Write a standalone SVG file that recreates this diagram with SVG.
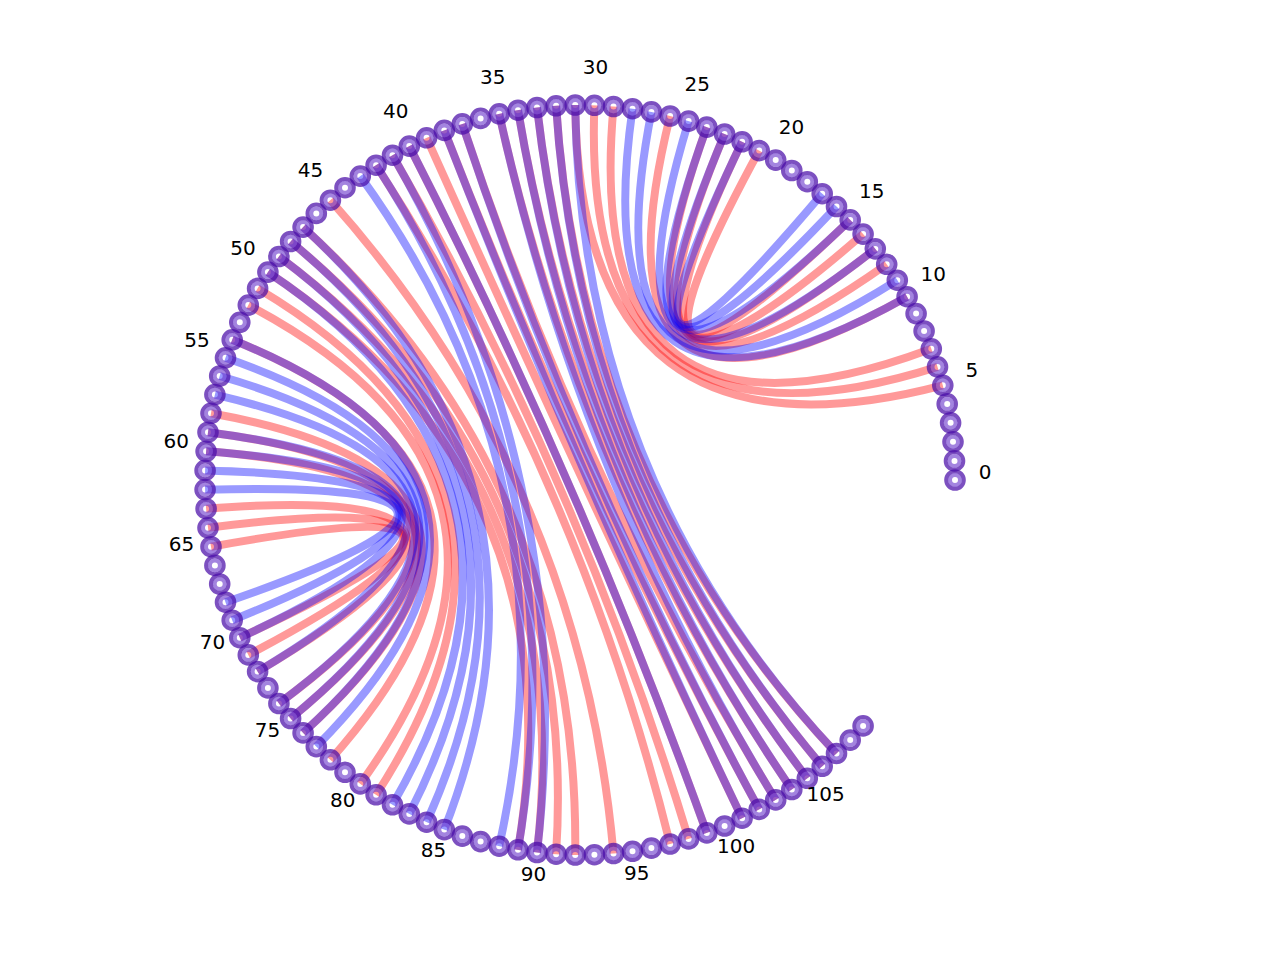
<svg xmlns="http://www.w3.org/2000/svg" xmlns:xlink="http://www.w3.org/1999/xlink" width="1280" height="960" viewBox="0 0 1280 960">
<style>
.r path{fill:none;stroke:#ff0000;stroke-opacity:0.4;stroke-width:8}
.b path{fill:none;stroke:#0000ff;stroke-opacity:0.4;stroke-width:8}
.lbl text{font-family:"DejaVu Sans","Liberation Sans",sans-serif;font-size:20px;fill:#000;text-anchor:middle}
</style>
<defs>
<g id="nd"><circle r="8.8" fill="none" stroke="#4a0ca8" stroke-opacity="0.72" stroke-width="4"/><circle r="5" fill="none" stroke="#6a38cc" stroke-opacity="0.62" stroke-width="4"/></g>
</defs>
<rect width="1280" height="960" fill="#fff"/>
<g id="edges">
<g class="r">
<path d="M850.2 219.9Q580 480 759.2 150.6"/>
<path d="M863.1 234.1Q580 480 742.1 141.8"/>
<path d="M875.3 248.9Q580 480 724.6 134"/>
<path d="M886.7 264.3Q580 480 706.8 127.1"/>
<path d="M907.1 296.7Q580 480 670.1 116"/>
<path d="M931.3 348.8Q580 480 613.5 106.5"/>
<path d="M937.5 366.9Q580 480 594.4 105.3"/>
<path d="M942.8 385.3Q580 480 575.2 105"/>
<path d="M211 546.7Q580 480 239.8 637.7"/>
<path d="M208 527.8Q580 480 248.3 654.9"/>
<path d="M206.1 508.7Q580 480 257.6 671.6"/>
<path d="M206.1 451.3Q580 480 278.9 703.5"/>
<path d="M208 432.2Q580 480 290.6 718.5"/>
<path d="M211 413.3Q580 480 303.1 732.9"/>
<path d="M232.2 339.8Q580 480 330.4 759.8"/>
<path d="M248.3 305.1Q580 480 360.3 783.9"/>
<path d="M257.6 288.4Q580 480 376.1 794.8"/>
<path d="M267.9 272.1Q580 480 518 849.8"/>
<path d="M278.9 256.5Q580 480 537 852.5"/>
<path d="M290.6 241.5Q580 480 556.1 854.2"/>
<path d="M303.1 227.1Q580 480 575.2 855"/>
<path d="M330.4 200.2Q580 480 613.5 853.5"/>
<path d="M376.1 165.2Q580 480 670.1 844"/>
<path d="M392.5 155.2Q580 480 688.6 838.9"/>
<path d="M409.3 146.1Q580 480 706.8 832.9"/>
<path d="M426.6 137.8Q580 480 742.1 818.2"/>
<path d="M444.3 130.4Q580 480 759.2 809.4"/>
<path d="M462.3 123.9Q580 480 775.7 799.9"/>
<path d="M499.2 113.8Q580 480 791.8 789.5"/>
<path d="M518 110.2Q580 480 807.3 778.3"/>
<path d="M537 107.5Q580 480 822.2 766.3"/>
<path d="M556.1 105.8Q580 480 836.5 753.5"/>
</g>
<g class="b">
<path d="M822.2 193.7Q580 480 742.1 141.8"/>
<path d="M836.5 206.5Q580 480 724.6 134"/>
<path d="M850.2 219.9Q580 480 706.8 127.1"/>
<path d="M875.3 248.9Q580 480 688.6 121.1"/>
<path d="M897.3 280.2Q580 480 651.4 111.9"/>
<path d="M907.1 296.7Q580 480 632.5 108.7"/>
<path d="M205.1 489.6Q580 480 225.5 602.2"/>
<path d="M205.1 470.4Q580 480 232.2 620.2"/>
<path d="M206.1 451.3Q580 480 239.8 637.7"/>
<path d="M208 432.2Q580 480 257.6 671.6"/>
<path d="M214.9 394.6Q580 480 278.9 703.5"/>
<path d="M219.7 376Q580 480 290.6 718.5"/>
<path d="M225.5 357.8Q580 480 303.1 732.9"/>
<path d="M232.2 339.8Q580 480 316.3 746.6"/>
<path d="M267.9 272.1Q580 480 392.5 804.8"/>
<path d="M278.9 256.5Q580 480 409.3 813.9"/>
<path d="M290.6 241.5Q580 480 426.6 822.2"/>
<path d="M303.1 227.1Q580 480 444.3 829.6"/>
<path d="M360.3 176.1Q580 480 499.2 846.2"/>
<path d="M376.1 165.2Q580 480 518 849.8"/>
<path d="M392.5 155.2Q580 480 537 852.5"/>
<path d="M409.3 146.1Q580 480 706.8 832.9"/>
<path d="M444.3 130.4Q580 480 742.1 818.2"/>
<path d="M462.3 123.9Q580 480 759.2 809.4"/>
<path d="M499.2 113.8Q580 480 775.7 799.9"/>
<path d="M518 110.2Q580 480 791.8 789.5"/>
<path d="M537 107.5Q580 480 807.3 778.3"/>
<path d="M556.1 105.8Q580 480 822.2 766.3"/>
<path d="M575.2 105Q580 480 836.5 753.5"/>
</g>
</g>
<g id="nodes">
<g id="n0"><use href="#nd" x="955" y="480"/></g>
<g id="n1"><use href="#nd" x="954.5" y="460.9"/></g>
<g id="n2"><use href="#nd" x="953" y="441.8"/></g>
<g id="n3"><use href="#nd" x="950.6" y="422.8"/></g>
<g id="n4"><use href="#nd" x="947.2" y="403.9"/></g>
<g id="n5"><use href="#nd" x="942.8" y="385.3"/></g>
<g id="n6"><use href="#nd" x="937.5" y="366.9"/></g>
<g id="n7"><use href="#nd" x="931.3" y="348.8"/></g>
<g id="n8"><use href="#nd" x="924.1" y="331"/></g>
<g id="n9"><use href="#nd" x="916.1" y="313.6"/></g>
<g id="n10"><use href="#nd" x="907.1" y="296.7"/></g>
<g id="n11"><use href="#nd" x="897.3" y="280.2"/></g>
<g id="n12"><use href="#nd" x="886.7" y="264.3"/></g>
<g id="n13"><use href="#nd" x="875.3" y="248.9"/></g>
<g id="n14"><use href="#nd" x="863.1" y="234.1"/></g>
<g id="n15"><use href="#nd" x="850.2" y="219.9"/></g>
<g id="n16"><use href="#nd" x="836.5" y="206.5"/></g>
<g id="n17"><use href="#nd" x="822.2" y="193.7"/></g>
<g id="n18"><use href="#nd" x="807.3" y="181.7"/></g>
<g id="n19"><use href="#nd" x="791.8" y="170.5"/></g>
<g id="n20"><use href="#nd" x="775.7" y="160.1"/></g>
<g id="n21"><use href="#nd" x="759.2" y="150.6"/></g>
<g id="n22"><use href="#nd" x="742.1" y="141.8"/></g>
<g id="n23"><use href="#nd" x="724.6" y="134"/></g>
<g id="n24"><use href="#nd" x="706.8" y="127.1"/></g>
<g id="n25"><use href="#nd" x="688.6" y="121.1"/></g>
<g id="n26"><use href="#nd" x="670.1" y="116"/></g>
<g id="n27"><use href="#nd" x="651.4" y="111.9"/></g>
<g id="n28"><use href="#nd" x="632.5" y="108.7"/></g>
<g id="n29"><use href="#nd" x="613.5" y="106.5"/></g>
<g id="n30"><use href="#nd" x="594.4" y="105.3"/></g>
<g id="n31"><use href="#nd" x="575.2" y="105"/></g>
<g id="n32"><use href="#nd" x="556.1" y="105.8"/></g>
<g id="n33"><use href="#nd" x="537" y="107.5"/></g>
<g id="n34"><use href="#nd" x="518" y="110.2"/></g>
<g id="n35"><use href="#nd" x="499.2" y="113.8"/></g>
<g id="n36"><use href="#nd" x="480.6" y="118.4"/></g>
<g id="n37"><use href="#nd" x="462.3" y="123.9"/></g>
<g id="n38"><use href="#nd" x="444.3" y="130.4"/></g>
<g id="n39"><use href="#nd" x="426.6" y="137.8"/></g>
<g id="n40"><use href="#nd" x="409.3" y="146.1"/></g>
<g id="n41"><use href="#nd" x="392.5" y="155.2"/></g>
<g id="n42"><use href="#nd" x="376.1" y="165.2"/></g>
<g id="n43"><use href="#nd" x="360.3" y="176.1"/></g>
<g id="n44"><use href="#nd" x="345" y="187.7"/></g>
<g id="n45"><use href="#nd" x="330.4" y="200.2"/></g>
<g id="n46"><use href="#nd" x="316.3" y="213.4"/></g>
<g id="n47"><use href="#nd" x="303.1" y="227.1"/></g>
<g id="n48"><use href="#nd" x="290.6" y="241.5"/></g>
<g id="n49"><use href="#nd" x="278.9" y="256.5"/></g>
<g id="n50"><use href="#nd" x="267.9" y="272.1"/></g>
<g id="n51"><use href="#nd" x="257.6" y="288.4"/></g>
<g id="n52"><use href="#nd" x="248.3" y="305.1"/></g>
<g id="n53"><use href="#nd" x="239.8" y="322.3"/></g>
<g id="n54"><use href="#nd" x="232.2" y="339.8"/></g>
<g id="n55"><use href="#nd" x="225.5" y="357.8"/></g>
<g id="n56"><use href="#nd" x="219.7" y="376"/></g>
<g id="n57"><use href="#nd" x="214.9" y="394.6"/></g>
<g id="n58"><use href="#nd" x="211" y="413.3"/></g>
<g id="n59"><use href="#nd" x="208" y="432.2"/></g>
<g id="n60"><use href="#nd" x="206.1" y="451.3"/></g>
<g id="n61"><use href="#nd" x="205.1" y="470.4"/></g>
<g id="n62"><use href="#nd" x="205.1" y="489.6"/></g>
<g id="n63"><use href="#nd" x="206.1" y="508.7"/></g>
<g id="n64"><use href="#nd" x="208" y="527.8"/></g>
<g id="n65"><use href="#nd" x="211" y="546.7"/></g>
<g id="n66"><use href="#nd" x="214.9" y="565.4"/></g>
<g id="n67"><use href="#nd" x="219.7" y="584"/></g>
<g id="n68"><use href="#nd" x="225.5" y="602.2"/></g>
<g id="n69"><use href="#nd" x="232.2" y="620.2"/></g>
<g id="n70"><use href="#nd" x="239.8" y="637.7"/></g>
<g id="n71"><use href="#nd" x="248.3" y="654.9"/></g>
<g id="n72"><use href="#nd" x="257.6" y="671.6"/></g>
<g id="n73"><use href="#nd" x="267.9" y="687.9"/></g>
<g id="n74"><use href="#nd" x="278.9" y="703.5"/></g>
<g id="n75"><use href="#nd" x="290.6" y="718.5"/></g>
<g id="n76"><use href="#nd" x="303.1" y="732.9"/></g>
<g id="n77"><use href="#nd" x="316.3" y="746.6"/></g>
<g id="n78"><use href="#nd" x="330.4" y="759.8"/></g>
<g id="n79"><use href="#nd" x="345" y="772.3"/></g>
<g id="n80"><use href="#nd" x="360.3" y="783.9"/></g>
<g id="n81"><use href="#nd" x="376.1" y="794.8"/></g>
<g id="n82"><use href="#nd" x="392.5" y="804.8"/></g>
<g id="n83"><use href="#nd" x="409.3" y="813.9"/></g>
<g id="n84"><use href="#nd" x="426.6" y="822.2"/></g>
<g id="n85"><use href="#nd" x="444.3" y="829.6"/></g>
<g id="n86"><use href="#nd" x="462.3" y="836.1"/></g>
<g id="n87"><use href="#nd" x="480.6" y="841.6"/></g>
<g id="n88"><use href="#nd" x="499.2" y="846.2"/></g>
<g id="n89"><use href="#nd" x="518" y="849.8"/></g>
<g id="n90"><use href="#nd" x="537" y="852.5"/></g>
<g id="n91"><use href="#nd" x="556.1" y="854.2"/></g>
<g id="n92"><use href="#nd" x="575.2" y="855"/></g>
<g id="n93"><use href="#nd" x="594.4" y="854.7"/></g>
<g id="n94"><use href="#nd" x="613.5" y="853.5"/></g>
<g id="n95"><use href="#nd" x="632.5" y="851.3"/></g>
<g id="n96"><use href="#nd" x="651.4" y="848.1"/></g>
<g id="n97"><use href="#nd" x="670.1" y="844"/></g>
<g id="n98"><use href="#nd" x="688.6" y="838.9"/></g>
<g id="n99"><use href="#nd" x="706.8" y="832.9"/></g>
<g id="n100"><use href="#nd" x="724.6" y="826"/></g>
<g id="n101"><use href="#nd" x="742.1" y="818.2"/></g>
<g id="n102"><use href="#nd" x="759.2" y="809.4"/></g>
<g id="n103"><use href="#nd" x="775.7" y="799.9"/></g>
<g id="n104"><use href="#nd" x="791.8" y="789.5"/></g>
<g id="n105"><use href="#nd" x="807.3" y="778.3"/></g>
<g id="n106"><use href="#nd" x="822.2" y="766.3"/></g>
<g id="n107"><use href="#nd" x="836.5" y="753.5"/></g>
<g id="n108"><use href="#nd" x="850.2" y="740.1"/></g>
<g id="n109"><use href="#nd" x="863.1" y="725.9"/></g>
</g>
<g class="lbl" id="labels">
<text x="985" y="479">0</text>
<text x="971.9" y="376.7">5</text>
<text x="933.3" y="280.9">10</text>
<text x="871.8" y="198.2">15</text>
<text x="791.4" y="133.5">20</text>
<text x="697.2" y="91.3">25</text>
<text x="595.6" y="74.3">30</text>
<text x="492.8" y="83.5">35</text>
<text x="395.7" y="118.4">40</text>
<text x="310.5" y="176.7">45</text>
<text x="243" y="254.5">50</text>
<text x="197.1" y="347">55</text>
<text x="176.2" y="448">60</text>
<text x="181.4" y="551">65</text>
<text x="212.6" y="649.4">70</text>
<text x="267.5" y="736.6">75</text>
<text x="342.8" y="807.3">80</text>
<text x="433.4" y="856.5">85</text>
<text x="533.6" y="881.3">90</text>
<text x="636.7" y="880">95</text>
<text x="736.1" y="852.7">100</text>
<text x="825.6" y="801.1">105</text>
</g>
</svg>
